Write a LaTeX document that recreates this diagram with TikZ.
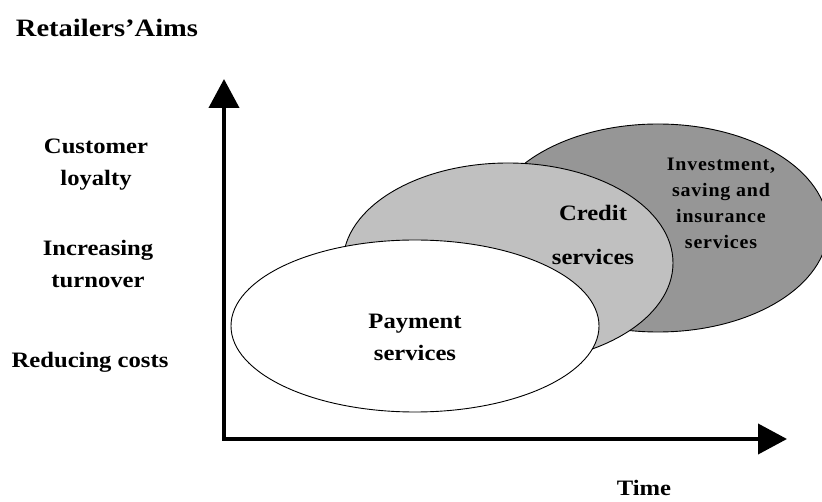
\documentclass[tikz,border=0pt]{standalone}
\usepackage{fontspec}
\setmainfont{Liberation Serif}
\usepackage{graphicx}
\usetikzlibrary{shapes.geometric,arrows.meta}
\newcommand\hs[2][1.12]{\scalebox{#1}[1]{#2}}
\begin{document}
\begin{tikzpicture}[x=1pt,y=-1pt,
  lbl/.style={font=\fontsize{22}{32}\selectfont\bfseries, align=center, inner sep=0pt},
  small/.style={font=\fontsize{19}{26}\selectfont\bfseries\addfontfeature{LetterSpace=4}, align=center, inner sep=0pt},
  blob/.style={ellipse, draw=black, line width=0.9pt, inner sep=0pt},
  axis/.style={line width=4pt, line join=miter, {Triangle[length=29pt,width=30pt]}-{Triangle[length=29pt,width=30pt]}}]
\useasboundingbox (0,0) rectangle (822,502);
% ellipses
\node[blob, fill={rgb,255:red,150;green,150;blue,150}, minimum width=340pt, minimum height=208pt] (inv) at (658,228) {};
\node[blob, fill={rgb,255:red,192;green,192;blue,192}, minimum width=330pt, minimum height=200pt] (cred) at (508,263) {};
\node[blob, fill=white, minimum width=368pt, minimum height=172pt] (pay) at (415,326) {};
% axes
\coordinate (O) at (224,439);
\coordinate (ytip) at (224,79);
\coordinate (xtip) at (787,439);
\draw[axis] (ytip) -- (O) -- (xtip);
% texts
\node[lbl, font=\fontsize{25}{26}\selectfont\bfseries] (title) at (107,28) {\hs[1.14]{Retailers'Aims}};
\node[lbl] (loyal) at (96,165) {\hs{Customer}\\\hs{loyalty}};
\node[lbl] (turn) at (98,264) {\hs{Increasing}\\\hs{turnover}};
\node[lbl] (cost) at (90,362) {\hs{Reducing costs}};
\node[lbl] (paytxt) at (415,337) {\hs{Payment}\\\hs{services}};
\node[lbl, font=\fontsize{22}{44}\selectfont\bfseries] (credtxt) at (593,235) {\hs{Credit}\\\hs{services}};
\node[small] (invtxt) at (721,203) {\hs[1.05]{Investment,}\\\hs[1.05]{saving and}\\\hs[1.05]{insurance}\\\hs[1.05]{services}};
\node[lbl] (time) at (644,488) {\hs{Time}};
\end{tikzpicture}
\end{document}
